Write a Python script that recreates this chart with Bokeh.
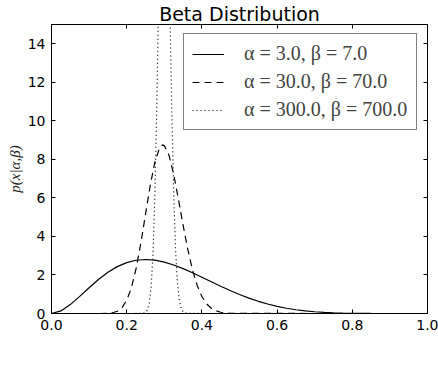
from bokeh.plotting import figure
from bokeh.models import Range1d, LinearAxis, FixedTicker, Legend, LegendItem
from bokeh.embed import file_html
from bokeh.resources import INLINE

# ---- data ----
x_a = [0.0, 0.025, 0.05, 0.075, 0.1, 0.125, 0.15, 0.175, 0.2, 0.225, 0.25,
       0.275, 0.3, 0.325, 0.35, 0.375, 0.4, 0.425, 0.45, 0.475, 0.5,
       0.525, 0.55, 0.575, 0.6, 0.625, 0.65, 0.675, 0.7, 0.725, 0.75,
       0.775, 0.8, 0.825, 0.85, 0.875, 0.9, 0.925, 0.95, 0.975, 1.0]
y_a = [0.0, 0.135, 0.463, 0.888, 1.339, 1.767, 2.138, 2.433, 2.642, 2.764, 2.803,
       2.768, 2.668, 2.518, 2.328, 2.112, 1.881, 1.645, 1.413, 1.191, 0.984,
       0.798, 0.633, 0.491, 0.372, 0.274, 0.196, 0.135, 0.090, 0.057, 0.035,
       0.020, 0.010, 0.005, 0.002, 0.001, 0.0, 0.0, 0.0, 0.0, 0.0]

x_b = [0.0, 0.1, 0.125, 0.15, 0.1625, 0.175, 0.1875, 0.2, 0.2125, 0.225, 0.2375,
       0.25, 0.2625, 0.275, 0.2875, 0.295, 0.3, 0.3125, 0.325, 0.3375, 0.35,
       0.3625, 0.375, 0.3875, 0.4, 0.4125, 0.425, 0.4375, 0.45, 0.475, 0.5, 1.0]
y_b = [0.0, 0.0, 0.0, 0.011, 0.039, 0.119, 0.306, 0.683, 1.339, 2.330, 3.641,
       5.145, 6.640, 7.870, 8.600, 8.750, 8.715, 8.215, 7.221, 5.942, 4.582,
       3.321, 2.264, 1.455, 0.880, 0.502, 0.271, 0.138, 0.066, 0.013, 0.002, 0.0]

x_c = [0.0, 0.2, 0.24, 0.25, 0.255, 0.26, 0.265, 0.27, 0.275, 0.28, 0.285,
       0.29, 0.295, 0.3, 0.305, 0.31, 0.315, 0.32, 0.325, 0.33, 0.335,
       0.34, 0.345, 0.35, 0.36, 0.4, 1.0]
y_c = [0.0, 0.0, 0.003, 0.052, 0.178, 0.534, 1.388, 3.137, 6.21, 10.76, 16.4,
       22.0, 26.1, 27.5, 25.7, 21.3, 15.8, 10.47, 6.21, 3.30, 1.572,
       0.674, 0.260, 0.090, 0.008, 0.0, 0.0]

series_labels = ["α = 3.0, β = 7.0", "α = 30.0, β = 70.0", "α = 300.0, β = 700.0"]

x_ticks = [0.0, 0.2, 0.4, 0.6, 0.8, 1.0]
x_tick_labels = ["0.0", "0.2", "0.4", "0.6", "0.8", "1.0"]
y_ticks = [0, 2, 4, 6, 8, 10, 12, 14]
y_tick_labels = ["0", "2", "4", "6", "8", "10", "12", "14"]

title_text = "Beta Distribution"
y_label = "p(x|α,β)"

# ---- figure ----
p = figure(width=438, height=382, output_backend="svg", toolbar_location=None,
           title=title_text,
           x_range=Range1d(0, 1), y_range=Range1d(0, 15),
           x_axis_location=None, y_axis_location=None,
           min_border_left=51, min_border_right=11, min_border_top=21,
           min_border_bottom=69)
p.grid.visible = False
p.outline_line_color = "black"
p.outline_line_width = 1
p.background_fill_color = "white"
p.border_fill_color = "white"

p.title.align = "center"
p.title.text_font = "DejaVu Sans"
p.title.text_font_size = "19px"
p.title.text_font_style = "normal"
p.title.text_color = "black"
p.title.standoff = 0
p.title.offset = 0
p.title.text_line_height = 0.9

tick_font = "DejaVu Sans"


def make_axis(ticks, labels, show):
    ax = LinearAxis(ticker=FixedTicker(ticks=ticks))
    ax.axis_line_color = "black"
    ax.major_tick_line_color = "black"
    ax.major_tick_in = 4
    ax.major_tick_out = 0
    ax.minor_tick_line_color = None
    if show:
        ax.major_label_overrides = {t: l for t, l in zip(ticks, labels)}
        ax.major_label_text_font = tick_font
        ax.major_label_text_font_size = "14px"
        ax.major_label_text_color = "black"
        ax.major_label_standoff = 6
    else:
        ax.major_label_text_font_size = "1px"
        ax.major_label_text_color = None
        ax.major_label_standoff = 0
    return ax


bottom = make_axis(x_ticks, x_tick_labels, True)
left = make_axis(y_ticks, y_tick_labels, True)
left.axis_label = y_label
left.axis_label_text_font = "Liberation Serif"
left.axis_label_text_font_style = "italic"
left.axis_label_text_font_size = "15px"
left.axis_label_text_color = "#222222"
left.axis_label_standoff = 2
top = make_axis(x_ticks, x_tick_labels, False)
right = make_axis(y_ticks, y_tick_labels, False)
p.add_layout(bottom, "below")
p.add_layout(left, "left")
p.add_layout(top, "above")
p.add_layout(right, "right")

r_a = p.line(x_a, y_a, line_color="black", line_width=1.2)
r_b = p.line(x_b, y_b, line_color="black", line_width=1.2, line_dash="7 5")
r_c = p.line(x_c, y_c, line_color="black", line_width=1.2, line_dash="1 3")

legend = Legend(items=[LegendItem(label=series_labels[0], renderers=[r_a]),
                       LegendItem(label=series_labels[1], renderers=[r_b]),
                       LegendItem(label=series_labels[2], renderers=[r_c])],
                location=(132, 183), margin=0, padding=8, spacing=5,
                glyph_width=32, glyph_height=20, label_height=20,
                label_standoff=20, label_width=164,
                label_text_font="Liberation Serif", label_text_font_size="20px",
                border_line_color="black", border_line_width=1,
                background_fill_color="white", background_fill_alpha=1)
p.add_layout(legend)

open("out.html", "w").write(file_html(p, INLINE))
